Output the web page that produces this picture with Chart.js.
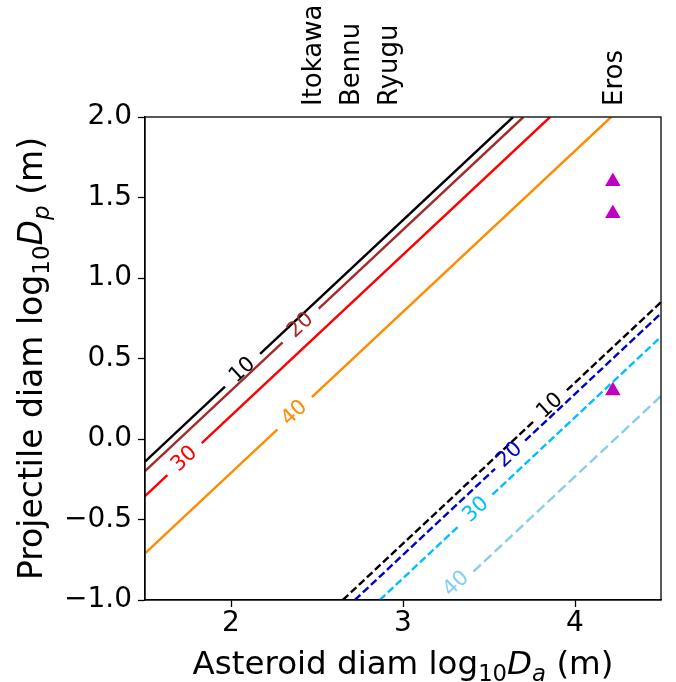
<!DOCTYPE html>
<html>
<head>
<meta charset="utf-8">
<script src="https://cdn.jsdelivr.net/npm/chart.js@4.4.1/dist/chart.umd.min.js"></script>
<style>
  html, body { margin: 0; padding: 0; background: #fff; }
  #wrap { width: 676px; height: 682px; }
</style>
</head>
<body>
<div id="wrap"><canvas id="crater-chart" width="676" height="682"></canvas></div>
<script>
// axis ticks
const xTicks = [2, 3, 4];
const yTicks = [-1, -0.5, 0, 0.5, 1, 1.5, 2];

// contour levels (same for both families of lines)
const levels = ['10', '20', '30', '40'];

// solid contours, null = gap for the inline label
const solidX = [
  [1.5, 1.965, null, 2.169, 3.64],
  [1.5, 2.30, null, 2.51, 3.70],
  [1.5, 1.63, null, 1.83, 3.855],
  [1.5, 2.27, null, 2.47, 4.21]
];
const solidY = [
  [-0.14, 0.325, null, 0.529, 2.0],
  [-0.20, 0.60, null, 0.81, 2.0],
  [-0.355, -0.225, null, -0.025, 2.0],
  [-0.71, 0.06, null, 0.26, 2.0]
];
const solidLabelX = [2.067, 2.405, 1.73, 2.37];
const solidLabelY = [0.427, 0.705, -0.125, 0.16];

// dashed contours
const dashedX = [
  [2.65, 3.756, null, 3.953, 4.5],
  [2.72, 3.535, null, 3.71, 4.5],
  [2.865, 3.33, null, 3.52, 4.5],
  [3.41, 4.5]
];
const dashedY = [
  [-1.0, 0.106, null, 0.303, 0.85],
  [-1.0, -0.185, null, -0.01, 0.78],
  [-1.0, -0.535, null, -0.345, 0.635],
  [-0.823, 0.267]
];
const dashedLabelX = [3.855, 3.62, 3.425, 3.31];
const dashedLabelY = [0.205, -0.10, -0.44, -0.90];

// Eros points
const erosX = [4.22, 4.22, 4.22];
const erosY = [1.6, 1.4, 0.3];

// asteroid names along the top
const asteroidNames = ['Itokawa', 'Bennu', 'Ryugu', 'Eros'];
const asteroidX = [2.47, 2.69, 2.91, 4.22];

const solidColors = ['#000000', '#a52a2a', '#ff0000', '#ff8c00'];
const dashedColors = ['#000000', '#0000cd', '#00bfff', '#87ceeb'];

const FONT = "'DejaVu Sans', sans-serif";

function toPoints(xs, ys) {
  return xs.map((x, i) => ({ x: x, y: ys[i] }));
}

const datasets = [];
solidX.forEach((xs, i) => {
  datasets.push({
    label: 'solid ' + levels[i],
    data: toPoints(xs, solidY[i]),
    showLine: true,
    borderColor: solidColors[i],
    borderWidth: 2.4,
    pointRadius: 0,
    spanGaps: false,
    contourLabel: { text: levels[i], x: solidLabelX[i], y: solidLabelY[i] }
  });
});
dashedX.forEach((xs, i) => {
  datasets.push({
    label: 'dashed ' + levels[i],
    data: toPoints(xs, dashedY[i]),
    showLine: true,
    borderColor: dashedColors[i],
    borderWidth: 2.4,
    borderDash: i === 3 ? [10, 4.5] : [7.6, 3.4],
    pointRadius: 0,
    spanGaps: false,
    contourLabel: { text: levels[i], x: dashedLabelX[i], y: dashedLabelY[i] }
  });
});
datasets.push({
  label: 'Eros',
  data: toPoints(erosX, erosY),
  showLine: false,
  pointStyle: 'triangle',
  pointRadius: 9,
  backgroundColor: '#bf00bf',
  borderColor: '#bf00bf',
  borderWidth: 0
});

// text with sub/italic parts (mathtext-like)
function drawRich(ctx, parts, size) {
  const fontOf = p => (p.italic ? 'oblique ' : '') + (p.sub ? size * 0.7 : size) + 'px ' + FONT;
  let total = 0;
  parts.forEach(p => { ctx.font = fontOf(p); total += ctx.measureText(p.t).width; });
  let x = -total / 2;
  parts.forEach(p => {
    ctx.font = fontOf(p);
    ctx.fillText(p.t, x, p.sub ? size * 0.2 : 0);
    x += ctx.measureText(p.t).width;
  });
}

const extras = {
  id: 'extras',
  afterDatasetsDraw(chart) {
    const ctx = chart.ctx;
    const xs = chart.scales.x, ys = chart.scales.y;

    // inline contour labels
    chart.data.datasets.forEach(ds => {
      if (!ds.contourLabel) return;
      const pts = ds.data.filter(p => p.x !== null);
      const a = pts[0], b = pts[pts.length - 1];
      const ang = Math.atan2(ys.getPixelForValue(b.y) - ys.getPixelForValue(a.y),
                             xs.getPixelForValue(b.x) - xs.getPixelForValue(a.x));
      ctx.save();
      ctx.translate(xs.getPixelForValue(ds.contourLabel.x), ys.getPixelForValue(ds.contourLabel.y));
      ctx.rotate(ang);
      ctx.fillStyle = ds.borderColor;
      ctx.font = '21px ' + FONT;
      ctx.textAlign = 'center';
      ctx.textBaseline = 'middle';
      ctx.fillText(ds.contourLabel.text, 0, 0);
      ctx.restore();
    });
  },
  afterDraw(chart) {
    const ctx = chart.ctx;
    const area = chart.chartArea;
    const xs = chart.scales.x;

    // frame
    ctx.save();
    ctx.strokeStyle = '#000';
    ctx.lineWidth = 1.3;
    ctx.strokeRect(area.left, area.top, area.right - area.left, area.bottom - area.top);
    ctx.restore();

    // asteroid names on top
    ctx.save();
    ctx.fillStyle = '#000';
    ctx.font = '26px ' + FONT;
    ctx.textAlign = 'left';
    ctx.textBaseline = 'alphabetic';
    asteroidNames.forEach((name, i) => {
      ctx.save();
      ctx.translate(xs.getPixelForValue(asteroidX[i]) + 9.5, area.top - 11);
      ctx.rotate(-Math.PI / 2);
      ctx.fillText(name, 0, 0);
      ctx.restore();
    });
    ctx.restore();

    // axis titles
    ctx.save();
    ctx.fillStyle = '#000';
    ctx.textAlign = 'left';
    ctx.textBaseline = 'alphabetic';
    ctx.translate((area.left + area.right) / 2, 674);
    drawRich(ctx, [
      { t: 'Asteroid diam log' }, { t: '10', sub: true },
      { t: 'D', italic: true }, { t: 'a', italic: true, sub: true }, { t: ' (m)' }
    ], 32.5);
    ctx.restore();

    ctx.save();
    ctx.fillStyle = '#000';
    ctx.textAlign = 'left';
    ctx.textBaseline = 'alphabetic';
    ctx.translate(42, (area.top + area.bottom) / 2);
    ctx.rotate(-Math.PI / 2);
    drawRich(ctx, [
      { t: 'Projectile diam log' }, { t: '10', sub: true },
      { t: 'D', italic: true }, { t: 'p', italic: true, sub: true }, { t: ' (m)' }
    ], 33);
    ctx.restore();
  }
};

const ctx = document.getElementById('crater-chart');

new Chart(ctx, {
  type: 'scatter',
  data: { datasets: datasets },
  options: {
    responsive: false,
    animation: false,
    devicePixelRatio: 1,
    layout: { padding: { top: 117, right: 15, left: 0, bottom: 0 } },
    plugins: { legend: { display: false }, tooltip: { enabled: false } },
    scales: {
      x: {
        type: 'linear',
        min: 1.5,
        max: 4.5,
        afterBuildTicks: s => { s.ticks = xTicks.map(v => ({ value: v })); },
        afterFit: s => { s.height = 82; },
        grid: { drawOnChartArea: false, drawTicks: true, tickLength: 7, color: '#000', tickWidth: 1.3 },
        border: { display: true, color: '#000', width: 1.3 },
        ticks: {
          color: '#000',
          font: { family: FONT, size: 28 },
          padding: 0,
          maxRotation: 0,
          callback: v => String(v)
        }
      },
      y: {
        type: 'linear',
        min: -1,
        max: 2,
        afterBuildTicks: s => { s.ticks = yTicks.map(v => ({ value: v })); },
        afterFit: s => { s.width = 145; },
        grid: { drawOnChartArea: false, drawTicks: true, tickLength: 7, color: '#000', tickWidth: 1.3 },
        border: { display: true, color: '#000', width: 1.3 },
        ticks: {
          color: '#000',
          font: { family: FONT, size: 28 },
          padding: 6,
          callback: v => v.toFixed(1).replace('-', '\u2212')
        }
      }
    }
  },
  plugins: [extras]
});
</script>
</body>
</html>
